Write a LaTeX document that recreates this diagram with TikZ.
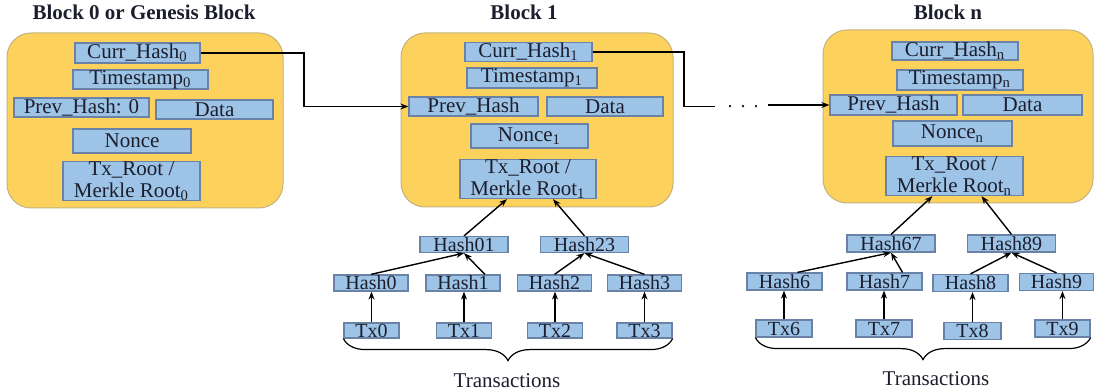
\documentclass[tikz,border=0pt]{standalone}
\usepackage{fontspec}
\setmainfont{Liberation Serif}
\usetikzlibrary{arrows.meta, decorations.pathreplacing}
\definecolor{blockyellow}{RGB}{252,210,92}
\definecolor{blockedge}{RGB}{196,178,128}
\definecolor{fieldblue}{RGB}{157,195,230}
\definecolor{fieldedge}{RGB}{105,130,165}
\definecolor{inktext}{RGB}{28,30,45}

\begin{document}
\begin{tikzpicture}[x=0.5pt, y=-0.5pt,
    block/.style={draw=blockedge, line width=0.5pt, fill=blockyellow, rounded corners=12pt},
    field/.style={draw=fieldedge, line width=0.6pt, fill=fieldblue, inner sep=0pt,
      text=inktext, font=\fontsize{10.5}{11}\selectfont, align=center},
    leaf/.style={field, font=\fontsize{10}{11}\selectfont},
    arr/.style={-{Stealth[length=4pt, width=3pt]}, line width=0.7pt},
    link/.style={line width=0.7pt},
    title/.style={font=\fontsize{10.5}{12}\selectfont\bfseries, text=inktext},
    brace/.style={decorate, decoration={brace, mirror, amplitude=11pt}, line width=0.6pt}
  ]
    \useasboundingbox (0,0) rectangle (1094,389);

    % titles
    \node[title] (title0) at (144,12) {Block 0 or Genesis Block};
    \node[title] (title1) at (524,12) {Block 1};
    \node[title] (titlen) at (948,12) {Block n};

    % blocks
    \node[block, minimum width=138pt, minimum height=87.5pt] (block0) at (145,120.5) {};
    \node[block, minimum width=136pt, minimum height=87pt] (block1) at (537,120) {};
    \node[block, minimum width=135pt, minimum height=86.5pt] (blockn) at (958,116.5) {};

    % block 0
    \node[field, minimum width=62.5pt, minimum height=10pt] (curr0) at (137.5,53) {Curr\_Hash\textsubscript{0}};
    \node[field, minimum width=67.5pt, minimum height=9.5pt] (time0) at (140.5,79.5) {Timestamp\textsubscript{0}};
    \node[field, minimum width=67.5pt, minimum height=9.5pt] (prev0) at (81.5,107.5) {Prev\_Hash: 0};
    \node[field, minimum width=58.5pt, minimum height=9.5pt] (data0) at (214.5,109.5) {Data};
    \node[field, minimum width=59pt, minimum height=12pt] (nonce0) at (132,141) {Nonce};
    \node[field, minimum width=68.5pt, minimum height=19pt] (root0) at (131.5,181) {Tx\_Root /\\Merkle Root\textsubscript{0}};

    % block 1
    \node[field, minimum width=63.5pt, minimum height=9.5pt] (curr1) at (528.5,52) {Curr\_Hash\textsubscript{1}};
    \node[field, minimum width=65pt, minimum height=10pt] (time1) at (532,78) {Timestamp\textsubscript{1}};
    \node[field, minimum width=64.5pt, minimum height=9.5pt] (prev1) at (473.5,106.5) {Prev\_Hash};
    \node[field, minimum width=58pt, minimum height=9.5pt] (data1) at (605,106.5) {Data};
    \node[field, minimum width=58.5pt, minimum height=12pt] (nonce1) at (529.5,136) {Nonce\textsubscript{1}};
    \node[field, minimum width=68pt, minimum height=19pt] (root1) at (528,179) {Tx\_Root /\\Merkle Root\textsubscript{1}};

    % block n
    \node[field, minimum width=63pt, minimum height=9pt] (currn) at (955,51) {Curr\_Hash\textsubscript{n}};
    \node[field, minimum width=63pt, minimum height=10pt] (timen) at (960,80) {Timestamp\textsubscript{n}};
    \node[field, minimum width=63.5pt, minimum height=10pt] (prevn) at (893.5,105) {Prev\_Hash};
    \node[field, minimum width=59.5pt, minimum height=10pt] (datan) at (1022.5,105) {Data};
    \node[field, minimum width=59.5pt, minimum height=12.5pt] (noncen) at (952.5,133.5) {Nonce\textsubscript{n}};
    \node[field, minimum width=68.5pt, minimum height=19pt] (rootn) at (954.5,176) {Tx\_Root /\\Merkle Root\textsubscript{n}};

    % chain
    \coordinate (bend0) at (304,0);
    \coordinate (bend1) at (684,0);
    \coordinate (gap1) at (715,0);
    \coordinate (gap2) at (768,0);
    \draw[arr] (curr0.east) -- (curr0.east -| bend0) |- (prev1.west);
    \draw[link] (curr1.east) -- (curr1.east -| bend1) |- (prev1.west -| gap1);
    \node[text=inktext] (dots) at (743,106.5) {.\hspace{4pt}.\hspace{4pt}.};
    \draw[arr] (prevn.west -| gap2) -- (prevn.west);

    % merkle tree of block 1
    \node[leaf, minimum width=44pt, minimum height=8pt] (hash01) at (464,244.5) {Hash01};
    \node[leaf, minimum width=44pt, minimum height=8pt] (hash23) at (584.5,244.5) {Hash23};
    \node[leaf, minimum width=37pt, minimum height=8pt] (hash0) at (371,283) {Hash0};
    \node[leaf, minimum width=37pt, minimum height=8pt] (hash1) at (463,283) {Hash1};
    \node[leaf, minimum width=37pt, minimum height=8pt] (hash2) at (554.5,283) {Hash2};
    \node[leaf, minimum width=37pt, minimum height=8pt] (hash3) at (644.5,283) {Hash3};
    \node[leaf, minimum width=27.5pt, minimum height=7.5pt] (tx0) at (371.5,330.5) {Tx0};
    \node[leaf, minimum width=27.5pt, minimum height=7.5pt] (tx1) at (464,330.5) {Tx1};
    \node[leaf, minimum width=27.5pt, minimum height=7.5pt] (tx2) at (555,330.5) {Tx2};
    \node[leaf, minimum width=27.5pt, minimum height=7.5pt] (tx3) at (644.5,330.5) {Tx3};

    % merkle tree of block n
    \node[leaf, minimum width=44pt, minimum height=8.5pt] (hash67) at (891,243.5) {Hash67};
    \node[leaf, minimum width=44pt, minimum height=8.5pt] (hash89) at (1011.5,243.5) {Hash89};
    \node[leaf, minimum width=37.5pt, minimum height=8.5pt] (hash6) at (784.5,281.5) {Hash6};
    \node[leaf, minimum width=37.5pt, minimum height=8.5pt] (hash7) at (884.5,281.5) {Hash7};
    \node[leaf, minimum width=37.5pt, minimum height=8.5pt] (hash8) at (970.5,283) {Hash8};
    \node[leaf, minimum width=37pt, minimum height=8.5pt] (hash9) at (1056.5,282) {Hash9};
    \node[leaf, minimum width=28pt, minimum height=8.5pt] (tx6) at (784,328.5) {Tx6};
    \node[leaf, minimum width=28pt, minimum height=8.5pt] (tx7) at (884,328.5) {Tx7};
    \node[leaf, minimum width=28.5pt, minimum height=8.5pt] (tx8) at (972.5,331) {Tx8};
    \node[leaf, minimum width=27.5pt, minimum height=8.5pt] (tx9) at (1062.5,328.5) {Tx9};

    \foreach \i in {0,1,2,3,6,7,8,9}
      \draw[arr] (tx\i.north) -- (tx\i.north |- hash\i.south);

    \draw[arr] (hash0.north) -- (hash01.south);
    \draw[arr] ([xshift=11pt]hash1.north) -- (hash01.south);
    \draw[arr] (hash2.north) -- (hash23.south);
    \draw[arr] (hash3.north) -- (hash23.south);
    \draw[arr] (hash01.north) -- ([xshift=-10.5pt]root1.south);
    \draw[arr] (hash23.north) -- ([xshift=12.5pt]root1.south);

    \draw[arr] ([xshift=6.5pt]hash6.north) -- (hash67.south);
    \draw[arr] ([xshift=9pt]hash7.north) -- (hash67.south);
    \draw[arr] (hash8.north) -- (hash89.south);
    \draw[arr] (hash9.north) -- (hash89.south);
    \draw[arr] (hash67.north) -- ([xshift=-11pt]rootn.south);
    \draw[arr] (hash89.north) -- ([xshift=13.5pt]rootn.south);

    % transactions
    \draw[brace] (tx0.south west) -- (tx3.south east);
    \draw[brace] (tx6.south west) -- (tx9.south east);
    \node[text=inktext, font=\fontsize{10.5}{12}\selectfont] (txs1) at (507,380.5) {Transactions};
    \node[text=inktext, font=\fontsize{10.5}{12}\selectfont] (txsn) at (936,379) {Transactions};
\end{tikzpicture}
\end{document}
